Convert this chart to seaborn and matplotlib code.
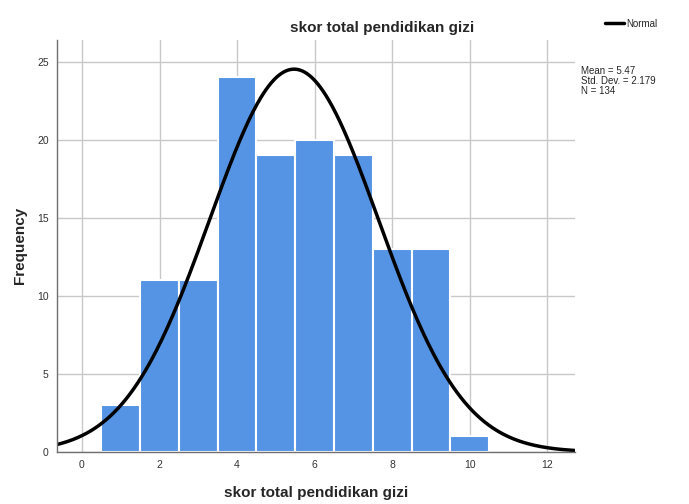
import numpy as np
import pandas as pd
import matplotlib
matplotlib.use('Agg')
import matplotlib.pyplot as plt
import seaborn as sns

# histogram data
scores = [1, 2, 3, 4, 5, 6, 7, 8, 9, 10]
counts = [3, 11, 11, 24, 19, 20, 19, 13, 13, 1]
mean_val = 5.47
sd_val = 2.179
n_total = 134
x_ticks = [0, 2, 4, 6, 8, 10, 12]
y_ticks = [0, 5, 10, 15, 20, 25]
title = 'skor total pendidikan gizi'

sns.set_style('white')
plt.rcParams['font.family'] = ['Liberation Sans', 'DejaVu Sans']

df = pd.DataFrame({'score': scores, 'count': counts})

fig = plt.figure(figsize=(6.89, 5.04), dpi=100)
ax = fig.add_axes([0.0827, 0.1032, 0.752, 0.8174])

ax.set_xlim(-0.645, 12.72)
ax.set_ylim(0, 26.4)
ax.set_xticks(x_ticks)
ax.set_yticks(y_ticks)
ax.grid(True, color='#c8c8c8', linewidth=1)
ax.set_axisbelow(True)

sns.histplot(data=df, x='score', weights='count', discrete=True, ax=ax,
             color='#5594e4', alpha=1, edgecolor='white', linewidth=1.5)

# fitted normal curve, scaled to counts (bin width 1)
xs = np.linspace(-0.645, 12.72, 400)
ys = n_total / (sd_val * np.sqrt(2 * np.pi)) * np.exp(-0.5 * ((xs - mean_val) / sd_val) ** 2)
sns.lineplot(x=xs, y=ys, ax=ax, color='black', linewidth=2.5, label='Normal')

ax.legend(loc='center left', bbox_to_anchor=(1.05, 1.04), frameon=False,
          fontsize=7, handlelength=2.0, handletextpad=0.2, borderaxespad=0)

for s in ['top', 'right']:
    ax.spines[s].set_visible(False)
for s in ['left', 'bottom']:
    ax.spines[s].set_color('#707070')
    ax.spines[s].set_linewidth(1)

ax.tick_params(axis='both', labelsize=7.5, colors='#333333', length=0, pad=6)
ax.set_xlabel('')
ax.set_ylabel('')

fig.text(0.459, 0.022, title, ha='center', va='center', fontsize=11, fontweight='bold')
fig.text(0.029, 0.514, 'Frequency', ha='center', va='center', rotation=90,
         fontsize=11, fontweight='bold')
fig.text(0.555, 0.945, title, ha='center', va='center', fontsize=11, fontweight='bold')
fig.text(0.843, 0.87, 'Mean = %.2f\nStd. Dev. = %.3f\nN = %d' % (mean_val, sd_val, n_total),
         ha='left', va='top', fontsize=7, linespacing=1.0)

fig.savefig('out.png', dpi=100)
